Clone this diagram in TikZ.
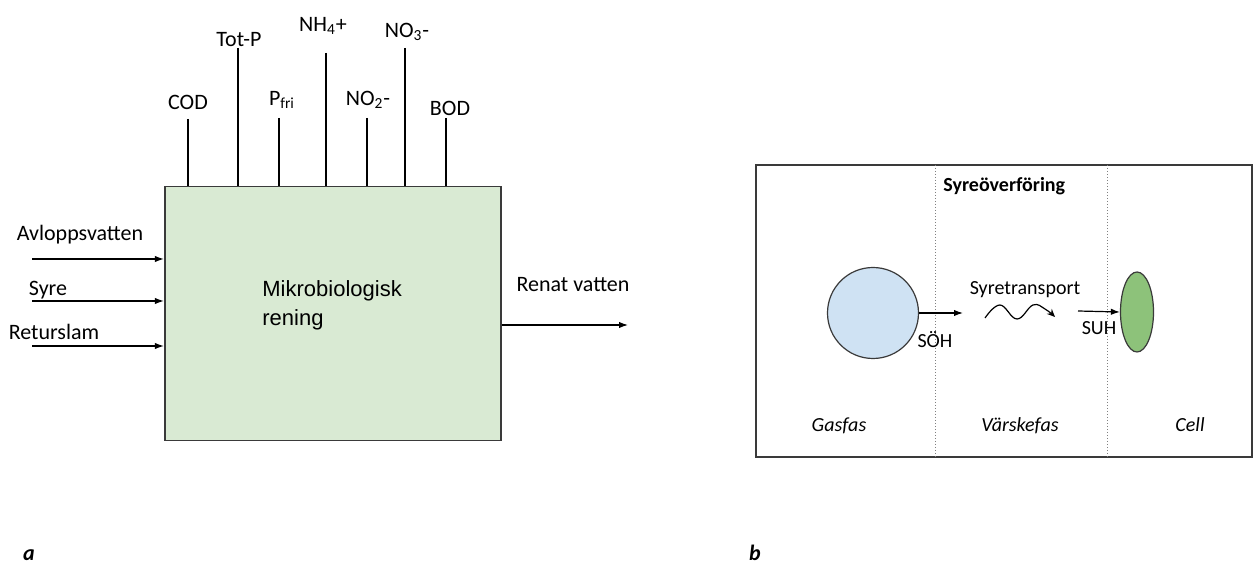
\documentclass[tikz,border=0pt]{standalone}
\usepackage{fontspec}
\setmainfont{Carlito}
\newfontfamily\arialf{Liberation Sans}
\usetikzlibrary{arrows.meta,shapes.geometric}
\definecolor{boxgreen}{HTML}{D9EAD3}
\definecolor{bubble}{HTML}{CFE2F3}
\definecolor{cellgreen}{HTML}{8DC27A}
\definecolor{edge}{HTML}{3A3A3A}
\tikzset{
  lbl/.style={font=\fontsize{11}{13}\selectfont, inner sep=0pt},
  rlbl/.style={font=\fontsize{10}{12}\selectfont, inner sep=0pt},
  phase/.style={font=\itshape\fontsize{10}{12}\selectfont, inner sep=0pt, anchor=base},
  wire/.style={line width=0.6pt, black},
  arr/.style={line width=0.6pt, black, -{Latex[length=4.5pt,width=3.2pt]}},
  sep/.style={gray, line width=0.5pt, dash pattern=on 0.6pt off 0.9pt},
}
\begin{document}
\begin{tikzpicture}[x=0.5pt, y=-0.5pt]
\useasboundingbox (0,0) rectangle (1254,566);

% ---------------- (a) ----------------
\node[draw=edge, fill=boxgreen, line width=0.8pt, minimum width=168.15pt, minimum height=126.9pt, inner sep=0pt] (box) at (332.85,313.6) {};
\node[font=\arialf\fontsize{11}{14.5}\selectfont, align=left, anchor=north west, inner sep=0pt] (mik) at (262,280) {Mikrobiologisk\\rening};

% top measurements
\coordinate (cod) at (188,119);
\coordinate (totp) at (238,48);
\coordinate (pfri) at (279,118);
\coordinate (nh) at (326,53);
\coordinate (notwo) at (367,118);
\coordinate (nothree) at (405,48);
\coordinate (bod) at (446,118);
\foreach \c in {cod,totp,pfri,nh,notwo,nothree,bod}
  \draw[wire] (\c) -- (\c |- box.north);

\node[lbl] (tcod) at (188,102) {COD};
\node[lbl] (ttotp) at (239,40) {Tot-P};
\node[lbl] (tpfri) at (282,100) {P\textsubscript{fri}};
\node[lbl] (tnh) at (323,26) {NH\textsubscript{4}+};
\node[lbl] (tnotwo) at (368,100) {NO\textsubscript{2}-};
\node[lbl] (tnothree) at (407,32) {NO\textsubscript{3}-};
\node[lbl] (tbod) at (450,108) {BOD};

% inputs
\coordinate (in1) at (32,259);
\coordinate (in2) at (32,301);
\coordinate (in3) at (32,346);
\draw[arr] (in1) -- (in1 -| box.west);
\draw[arr] (in2) -- (in2 -| box.west);
\draw[arr] (in3) -- (in3 -| box.west);
\node[lbl] (tin1) at (80,235) {Avloppsvatten};
\node[lbl] (tin2) at (48,290) {Syre};
\node[lbl] (tin3) at (54,332) {Returslam};

% output
\coordinate (out) at (628,325);
\draw[arr] (out -| box.east) -- (out);
\node[lbl] (tout) at (573,285) {Renat vatten};

\node[font=\bfseries\itshape\fontsize{11}{13}\selectfont, inner sep=0pt] (la) at (29,555) {a};

% ---------------- (b) ----------------
\draw[edge, line width=1pt] (756,165) rectangle (1252,457);
\coordinate (s1t) at (935,165);
\coordinate (s1b) at (935,457);
\coordinate (s2t) at (1107,165);
\coordinate (s2b) at (1107,457);
\draw[sep] (s1t) -- (s1b);
\draw[sep] (s2t) -- (s2b);

\node[rlbl, font=\bfseries\fontsize{10}{12}\selectfont, anchor=west] (title) at (943,186) {Syreöverföring};

\node[circle, draw=edge, fill=bubble, line width=0.6pt, minimum size=45.5pt, inner sep=0pt] (bub) at (873,313) {};
\node[ellipse, draw=edge, fill=cellgreen, line width=0.6pt, minimum width=16.5pt, minimum height=40pt, inner sep=0pt] (cell) at (1137,312) {};

\coordinate (sohend) at (963,313);
\draw[arr] (bub.east) -- (sohend);
\coordinate (suhstart) at (1078,311);
\draw[arr] (suhstart) -- (cell.west);

\node[rlbl] (ttrans) at (1025,290) {Syretransport};
\draw[line width=0.6pt, -{Stealth[length=4pt,width=3.5pt,open]}]
  plot[smooth, tension=0.7] coordinates {(985,318) (1000,305) (1017,319) (1033,305) (1045,309) (1055,317)};

\node[rlbl] (tsoh) at (935,340) {SÖH};
\node[rlbl] (tsuh) at (1099,328) {SUH};

\node[phase] (gas) at (839,432) {Gasfas};
\node[phase] (vat) at (1020,432) {Värskefas};
\node[phase] (cel) at (1190,432) {Cell};

\node[font=\bfseries\itshape\fontsize{11}{13}\selectfont, inner sep=0pt] (lb) at (755,553) {b};
\end{tikzpicture}
\end{document}
